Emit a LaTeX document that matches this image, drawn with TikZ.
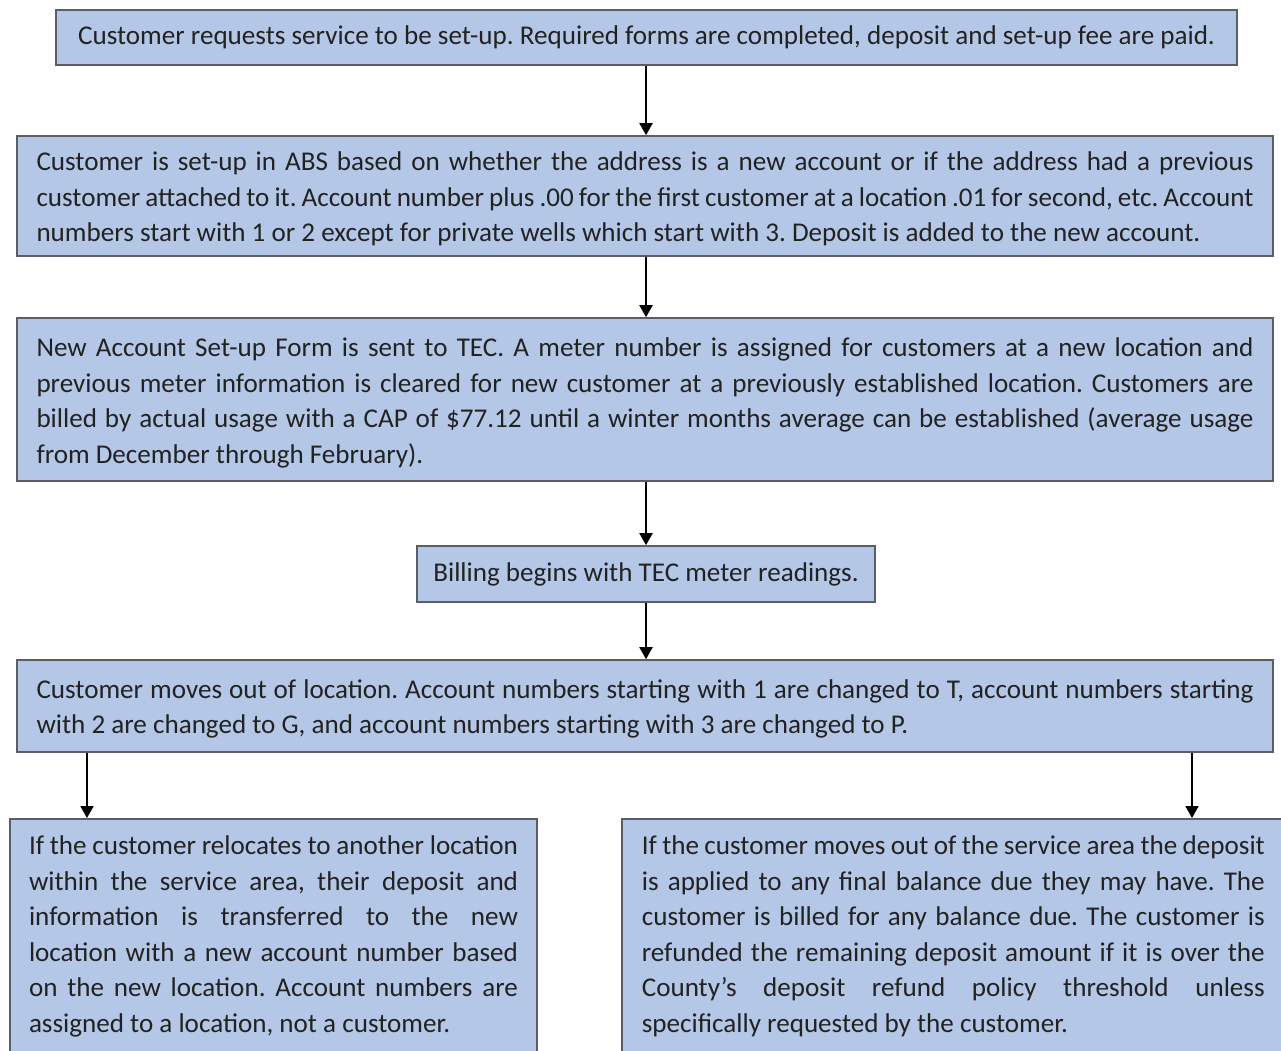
\documentclass[tikz,border=0pt]{standalone}
\usepackage{fontspec}
\setmainfont{Carlito}
\usetikzlibrary{arrows.meta}
\definecolor{boxfill}{HTML}{B4C7E7}
\definecolor{boxline}{HTML}{5A5E66}
\definecolor{txt}{HTML}{222222}
\begin{document}
\frenchspacing
\begin{tikzpicture}[x=1pt,y=-1pt,
  box/.style={draw=boxline, line width=1.6pt, fill=boxfill, text=txt,
    font=\frenchspacing\fontsize{27.1}{35.5}\selectfont, inner ysep=0pt},
  wide/.style={box, text width=1217pt, inner xsep=19.5pt, align=justify},
  low/.style={box, inner ysep=17pt, align=justify},
  arr/.style={draw=black, line width=2pt, -{Triangle[length=12pt,width=13pt]}}]
\useasboundingbox (0,0) rectangle (1281,1051);
\node[box, minimum width=1181pt, minimum height=55pt, align=center] (b1) at (646.5,37.5)
  {Customer requests service to be set-up. Required forms are completed, deposit and set-up fee are paid.};
\node[wide, minimum height=120pt, text depth=69pt] (b2) at (645,196)
  {Customer is set-up in ABS based on whether the address is a new account or if the address had a previous\linebreak
   customer attached to it. Account number plus .00 for the first customer at a location .01 for second, etc. Account\linebreak
   numbers start with 1 or 2 except for private wells which start with 3. Deposit is added to the new account.};
\node[wide, minimum height=163pt, text depth=104pt] (b3) at (645,399.5)
  {New Account Set-up Form is sent to TEC. A meter number is assigned for customers at a new location and\linebreak
   previous meter information is cleared for new customer at a previously established location. Customers are\linebreak
   billed by actual usage with a CAP of \$77.12 until a winter months average can be established (average usage\linebreak
   from December through February).};
\node[box, minimum width=458pt, minimum height=56pt, align=center] (b4) at (646,574)
  {Billing begins with TEC meter readings.};
\node[wide, minimum height=92pt, text depth=34pt] (b5) at (645,706)
  {Customer moves out of location. Account numbers starting with 1 are changed to T, account numbers starting\linebreak
   with 2 are changed to G, and account numbers starting with 3 are changed to P.};
\node[low, text width=489pt, inner xsep=19pt, anchor=north] (b6) at (273.5,818)
  {If the customer relocates to another location\linebreak
   within the service area, their deposit and\linebreak
   information is transferred to the new\linebreak
   location with a new account number based\linebreak
   on the new location. Account numbers are\linebreak
   assigned to a location, not a customer.\par\vspace{40pt}};
\node[low, text width=623pt, inner xsep=20pt, anchor=north west] (b7) at (621,818)
  {If the customer moves out of the service area the deposit\linebreak
   is applied to any final balance due they may have. The\linebreak
   customer is billed for any balance due. The customer is\linebreak
   refunded the remaining deposit amount if it is over the\linebreak
   County’s deposit refund policy threshold unless\linebreak
   specifically requested by the customer.\par\vspace{40pt}};
\coordinate (mx) at (646,0);
\coordinate (lx) at (87,0);
\coordinate (rx) at (1192,0);
\draw[arr] (b1.south -| mx) -- (b2.north -| mx);
\draw[arr] (b2.south -| mx) -- (b3.north -| mx);
\draw[arr] (b3.south -| mx) -- (b4.north -| mx);
\draw[arr] (b4.south -| mx) -- (b5.north -| mx);
\draw[arr] (b5.south -| lx) -- (b6.north -| lx);
\draw[arr] (b5.south -| rx) -- (b7.north -| rx);
\end{tikzpicture}
\end{document}
